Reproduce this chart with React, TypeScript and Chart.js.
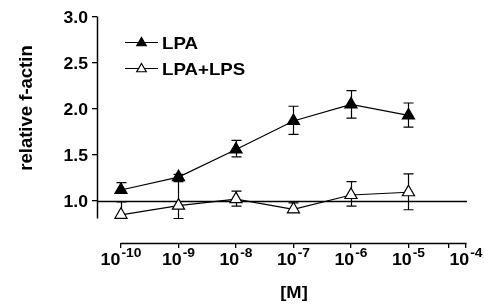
import React, { useEffect, useRef } from "react";
import { Chart, registerables } from "chart.js";

Chart.register(...registerables);

// ---- data ----
const exponents = [-10, -9, -8, -7, -6, -5];
const lpaValues = [1.12, 1.26, 1.56, 1.87, 2.05, 1.93];
const lpaErrUp = [0.08, 0.03, 0.1, 0.16, 0.15, 0.135];
const lpaErrDown = [0.03, 0.03, 0.08, 0.145, 0.15, 0.127];
const lpsValues = [0.85, 0.95, 1.02, 0.91, 1.065, 1.095];
const lpsErrUp = [0.14, 0.26, 0.087, 0.07, 0.145, 0.2];
const lpsErrDown = [0.03, 0.14, 0.076, 0.03, 0.12, 0.19];
const seriesNames = ["LPA", "LPA+LPS"];
const xTickExponents = [-10, -9, -8, -7, -6, -5, -4];
const xMinorTickValues = [Math.log10(5e-5)];
const yTickValues = [1.0, 1.5, 2.0, 2.5, 3.0];
const referenceLevel = 1.0;
const xTitle = "[M]";
const yTitle = "relative f-actin";

const FONT = '"Liberation Sans", Arial, Helvetica, sans-serif';

function drawText(
  ctx: CanvasRenderingContext2D,
  text: string,
  x: number,
  y: number,
  align: "left" | "center" | "right",
  font: string,
  sx = 1
) {
  ctx.save();
  ctx.font = font;
  ctx.textBaseline = "alphabetic";
  const w = ctx.measureText(text).width * sx;
  const left = align === "center" ? x - w / 2 : align === "right" ? x - w : x;
  ctx.translate(left, y);
  ctx.scale(sx, 1);
  ctx.textAlign = "left";
  ctx.fillStyle = "#000";
  ctx.fillText(text, 0, 0);
  ctx.restore();
  return w;
}

function measure(ctx: CanvasRenderingContext2D, text: string, font: string, sx = 1) {
  ctx.save();
  ctx.font = font;
  const w = ctx.measureText(text).width * sx;
  ctx.restore();
  return w;
}

function triangle(ctx: CanvasRenderingContext2D, x: number, y: number, r: number, fill: string) {
  ctx.save();
  ctx.beginPath();
  ctx.moveTo(x, y - r);
  ctx.lineTo(x + 0.866 * r, y + 0.5 * r);
  ctx.lineTo(x - 0.866 * r, y + 0.5 * r);
  ctx.closePath();
  ctx.fillStyle = fill;
  ctx.fill();
  ctx.strokeStyle = "#000";
  ctx.lineWidth = 1.2;
  ctx.stroke();
  ctx.restore();
}

const errorBars = {
  id: "errorBars",
  beforeDatasetsDraw(chart: any) {
    const ctx: CanvasRenderingContext2D = chart.ctx;
    const xs = chart.scales.x;
    const ys = chart.scales.y;
    const area = chart.chartArea;
    ctx.save();
    ctx.strokeStyle = "#000";
    ctx.lineWidth = 1.3;
    // reference line at 1.0
    const yRef = Math.round(ys.getPixelForValue(referenceLevel)) + 0.5;
    ctx.beginPath();
    ctx.moveTo(area.left, yRef);
    ctx.lineTo(xs.getPixelForValue(-4) + 1, yRef);
    ctx.stroke();
    const sets = [
      { v: lpaValues, up: lpaErrUp, dn: lpaErrDown },
      { v: lpsValues, up: lpsErrUp, dn: lpsErrDown },
    ];
    ctx.lineWidth = 1.2;
    for (const s of sets) {
      exponents.forEach((e, i) => {
        const px = Math.round(xs.getPixelForValue(e)) + 0.5;
        const top = ys.getPixelForValue(s.v[i] + s.up[i]);
        const bot = ys.getPixelForValue(s.v[i] - s.dn[i]);
        ctx.beginPath();
        ctx.moveTo(px, top);
        ctx.lineTo(px, bot);
        ctx.moveTo(px - 5, top);
        ctx.lineTo(px + 5, top);
        ctx.moveTo(px - 5, bot);
        ctx.lineTo(px + 5, bot);
        ctx.stroke();
      });
    }
    ctx.restore();
  },
  afterDraw(chart: any) {
    const ctx: CanvasRenderingContext2D = chart.ctx;
    const xs = chart.scales.x;
    const ys = chart.scales.y;
    const area = chart.chartArea;
    ctx.save();
    ctx.strokeStyle = "#000";
    ctx.lineWidth = 1.5;
    // y axis line
    const axX = Math.round(area.left) + 0.5;
    ctx.beginPath();
    ctx.moveTo(axX, ys.getPixelForValue(3.0) - 0.5);
    ctx.lineTo(axX, ys.getPixelForValue(0.81));
    ctx.stroke();
    // x axis line
    const axY = Math.round(area.bottom) + 0.5;
    ctx.beginPath();
    ctx.moveTo(xs.getPixelForValue(-10) - 0.5, axY);
    ctx.lineTo(xs.getPixelForValue(-4) + 0.5, axY);
    ctx.stroke();
    ctx.restore();

    // y tick labels
    const tickFont = `bold 16px ${FONT}`;
    yTickValues.forEach((v) => {
      const py = ys.getPixelForValue(v);
      drawText(ctx, v.toFixed(1), area.left - 9, py + 6, "right", tickFont, 1.1);
    });

    // x tick labels: 10^n
    const baseFont = `bold 17px ${FONT}`;
    const expFont = `bold 12px ${FONT}`;
    xTickExponents.forEach((n) => {
      const px = xs.getPixelForValue(n);
      const base = "10";
      const exp = "-" + String(-n);
      const wb = measure(ctx, base, baseFont, 1.05);
      const we = measure(ctx, exp, expFont, 1.15);
      const start = px - (wb + we + 1) / 2;
      drawText(ctx, base, start, 265, "left", baseFont, 1.05);
      drawText(ctx, exp, start + wb + 1, 257, "left", expFont, 1.15);
    });

    // axis titles
    drawText(ctx, xTitle, 294, 298, "center", `bold 17px ${FONT}`, 1.08);
    ctx.save();
    ctx.translate(32, 108);
    ctx.rotate(-Math.PI / 2);
    drawText(ctx, yTitle, 0, 0, "center", `bold 18.5px ${FONT}`, 1.0);
    ctx.restore();

    // legend
    const legendFont = `bold 17px ${FONT}`;
    const rows = [
      { y: 42.5, fill: "#000" },
      { y: 68.5, fill: "#fff" },
    ];
    rows.forEach((r, i) => {
      ctx.save();
      ctx.strokeStyle = "#000";
      ctx.lineWidth = 1.2;
      ctx.beginPath();
      ctx.moveTo(125, r.y);
      ctx.lineTo(158, r.y);
      ctx.stroke();
      ctx.restore();
      triangle(ctx, 141.5, r.y + 0.5, 5.5, r.fill);
      drawText(ctx, seriesNames[i], 162, r.y + 6, "left", legendFont, 1.1);
    });
  },
};

export default function App() {
  const ref = useRef<HTMLCanvasElement | null>(null);
  useEffect(() => {
    if (!ref.current) return;
    const chart = new Chart(ref.current, {
      type: "line",
      data: {
        datasets: [
          {
            label: seriesNames[0],
            data: exponents.map((e, i) => ({ x: e, y: lpaValues[i] })),
            borderColor: "#000",
            borderWidth: 1.2,
            pointStyle: "triangle",
            pointRadius: 7,
            pointBackgroundColor: "#000",
            pointBorderColor: "#000",
            pointBorderWidth: 1.2,
            tension: 0,
          },
          {
            label: seriesNames[1],
            data: exponents.map((e, i) => ({ x: e, y: lpsValues[i] })),
            borderColor: "#000",
            borderWidth: 1.2,
            pointStyle: "triangle",
            pointRadius: 7,
            pointBackgroundColor: "#fff",
            pointBorderColor: "#000",
            pointBorderWidth: 1.2,
            tension: 0,
          },
        ],
      },
      options: {
        responsive: false,
        animation: false,
        layout: { padding: { top: 17, right: 14, left: 0, bottom: 0 } },
        plugins: { legend: { display: false }, tooltip: { enabled: false } },
        scales: {
          x: {
            type: "linear",
            min: -10.417,
            max: -3.93,
            afterBuildTicks: (s: any) => {
              s.ticks = [...xTickExponents, ...xMinorTickValues].map((v) => ({ value: v }));
            },
            afterFit: (s: any) => {
              s.height = 62;
            },
            ticks: { display: false },
            grid: {
              drawOnChartArea: false,
              drawTicks: true,
              tickLength: 5,
              color: "#000",
              lineWidth: 1.3,
            },
            border: { display: false },
          },
          y: {
            type: "linear",
            min: 0.5435,
            max: 3.0,
            afterBuildTicks: (s: any) => {
              s.ticks = yTickValues.map((v) => ({ value: v }));
            },
            afterFit: (s: any) => {
              s.width = 97;
            },
            ticks: { display: false },
            grid: {
              drawOnChartArea: false,
              drawTicks: true,
              tickLength: 5,
              color: "#000",
              lineWidth: 1.3,
            },
            border: { display: false },
          },
        },
      },
      plugins: [errorBars],
    });
    return () => chart.destroy();
  }, []);
  return (
    <canvas
      ref={ref}
      width={484}
      height={305}
      style={{ position: "absolute", left: 0, top: 0, display: "block", background: "#fff" }}
    />
  );
}
